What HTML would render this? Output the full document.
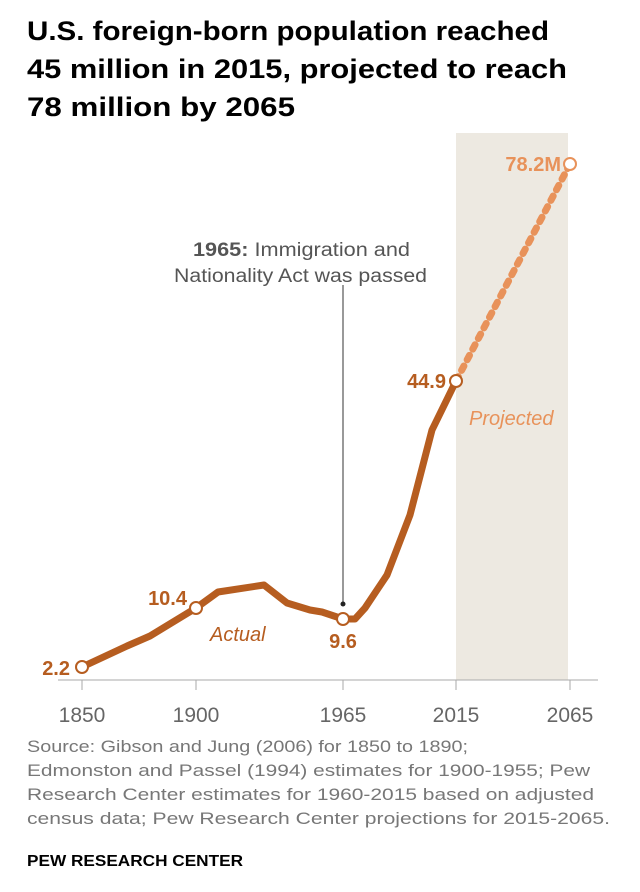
<!DOCTYPE html>
<html><head><meta charset="utf-8"><style>
body{margin:0;background:#fff;width:640px;height:887px;overflow:hidden;font-family:"Liberation Sans",sans-serif}
</style></head><body>
<svg width="640" height="887" xmlns="http://www.w3.org/2000/svg" font-family="Liberation Sans, sans-serif">
<g font-size="27" font-weight="bold" fill="#000"><text x="27" y="40" textLength="522" lengthAdjust="spacingAndGlyphs">U.S. foreign-born population reached</text><text x="27" y="78" textLength="540" lengthAdjust="spacingAndGlyphs">45 million in 2015, projected to reach</text><text x="27" y="116" textLength="268" lengthAdjust="spacingAndGlyphs">78 million by 2065</text></g>
<rect x="456" y="133" width="112" height="547" fill="#ede9e1"/>
<line x1="58" y1="680" x2="598" y2="680" stroke="#aaa" stroke-width="1"/>
<g stroke="#aaa"><line x1="82" y1="680" x2="82" y2="690"/><line x1="196" y1="680" x2="196" y2="690"/><line x1="343" y1="680" x2="343" y2="690"/><line x1="456" y1="680" x2="456" y2="690"/><line x1="570" y1="680" x2="570" y2="690"/></g>
<g font-size="21" fill="#666" text-anchor="middle"><text x="82" y="722">1850</text><text x="196" y="722">1900</text><text x="343" y="722">1965</text><text x="456" y="722">2015</text><text x="570" y="722">2065</text></g>
<line x1="343" y1="285" x2="343" y2="603" stroke="#333" stroke-width="1"/>
<circle cx="343" cy="604" r="2.5" fill="#222"/>
<g font-size="19" fill="#555"><text x="193" y="256" textLength="217" lengthAdjust="spacingAndGlyphs"><tspan font-weight="bold">1965:</tspan> Immigration and</text><text x="174" y="282" textLength="253" lengthAdjust="spacingAndGlyphs">Nationality Act was passed</text></g>
<line x1="456" y1="381" x2="570" y2="164" stroke="#e8925a" stroke-width="7" stroke-dasharray="5 7" stroke-linecap="round"/>
<polyline points="82,667 127,646 150,636 196,608 218,592 264,585 287,603 310,610 322,612 343,619 355,619 365,608 387,575 410,515 432,430 456,381" fill="none" stroke="#b65d20" stroke-width="7" stroke-linejoin="round"/>
<g fill="#fff" stroke="#b65d20" stroke-width="2"><circle cx="82" cy="667" r="6"/><circle cx="196" cy="608" r="6"/><circle cx="343" cy="619" r="6"/><circle cx="456" cy="381" r="6"/></g>
<circle cx="570" cy="164" r="6" fill="#fff" stroke="#e8925a" stroke-width="2"/>
<g font-size="20" font-weight="bold" fill="#b65d20"><text x="70" y="675" text-anchor="end">2.2</text><text x="187" y="605" text-anchor="end">10.4</text><text x="343" y="648" text-anchor="middle">9.6</text><text x="446" y="388" text-anchor="end">44.9</text></g>
<text x="561" y="171" font-size="20" font-weight="bold" fill="#e8925a" text-anchor="end">78.2M</text>
<text x="210" y="641" font-size="20" font-style="italic" fill="#b65d20">Actual</text>
<text x="469" y="425" font-size="20" font-style="italic" fill="#e8925a">Projected</text>
<g font-size="16.5" fill="#777"><text x="27" y="752" textLength="441" lengthAdjust="spacingAndGlyphs">Source: Gibson and Jung (2006) for 1850 to 1890;</text><text x="27" y="776" textLength="563" lengthAdjust="spacingAndGlyphs">Edmonston and Passel (1994) estimates for 1900-1955; Pew</text><text x="27" y="800" textLength="567" lengthAdjust="spacingAndGlyphs">Research Center estimates for 1960-2015 based on adjusted</text><text x="27" y="824" textLength="583" lengthAdjust="spacingAndGlyphs">census data; Pew Research Center projections for 2015-2065.</text></g>
<text x="27" y="866" font-size="16" font-weight="bold" fill="#000" textLength="216" lengthAdjust="spacingAndGlyphs">PEW RESEARCH CENTER</text>
</svg>
</body></html>
